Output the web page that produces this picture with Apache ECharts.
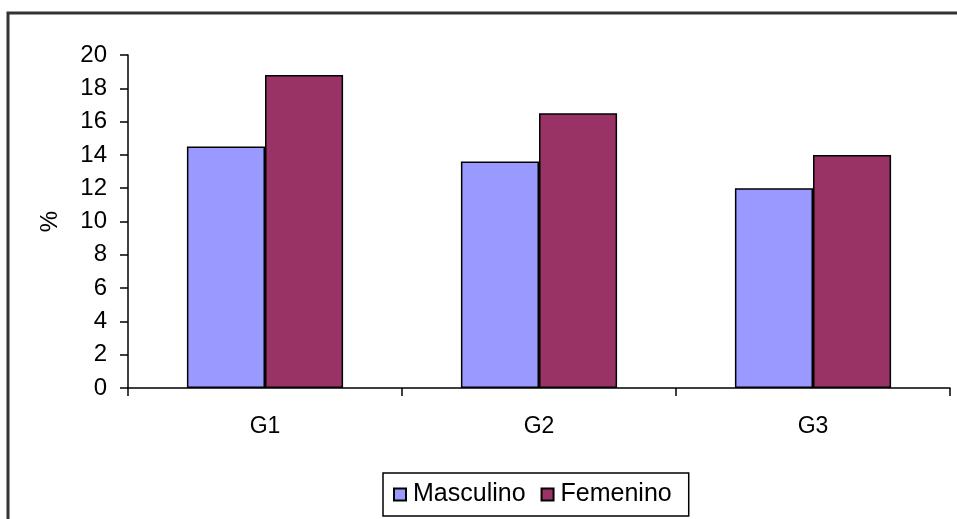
<!DOCTYPE html>
<html>
<head>
<meta charset="utf-8">
<script src="https://cdn.jsdelivr.net/npm/echarts@6/dist/echarts.min.js"></script>
<style>
  html, body { margin: 0; padding: 0; background: #fff; }
  #chart { width: 957px; height: 519px; }
</style>
</head>
<body>
<div id="chart"></div>
<script>
// grupos y porcentajes
const categories = ['G1', 'G2', 'G3'];
const masculino = [14.5, 13.6, 12.0];
const femenino = [18.8, 16.5, 14.0];

const chart = echarts.init(document.getElementById('chart'));

const option = {
  backgroundColor: '#fff',
  animation: false,
  textStyle: { fontFamily: 'Liberation Sans, Arial, sans-serif', color: '#000' },
  graphic: [{
    type: 'rect',
    shape: { x: 8, y: 13, width: 970, height: 540 },
    style: { fill: 'none', stroke: '#333', lineWidth: 3 },
    silent: true
  }],
  grid: { left: 128, right: 7, top: 55, bottom: 131, containLabel: false },
  legend: {
    left: 383, top: 473,
    padding: [9, 17, 9, 10],
    itemGap: 15,
    itemWidth: 12, itemHeight: 12,
    icon: 'rect',
    borderColor: '#000', borderWidth: 1.5,
    textStyle: { fontSize: 25, color: '#000', fontFamily: 'Liberation Sans, Arial, sans-serif', padding: [0, 0, 0, 2] },
    data: ['Masculino', 'Femenino']
  },
  xAxis: {
    type: 'category',
    data: categories,
    axisLine: { lineStyle: { color: '#000', width: 1.5 } },
    axisTick: { show: true, alignWithLabel: false, length: 8, lineStyle: { color: '#000', width: 1.5 } },
    axisLabel: { fontSize: 23, color: '#000', margin: 27 }
  },
  yAxis: {
    type: 'value',
    min: 0, max: 20, interval: 2,
    name: '%',
    nameLocation: 'middle',
    nameGap: 66,
    nameRotate: 90,
    nameTextStyle: { fontSize: 24, color: '#000' },
    axisLine: { show: true, lineStyle: { color: '#000', width: 1.5 } },
    axisTick: { show: true, length: 8, lineStyle: { color: '#000', width: 1.5 } },
    axisLabel: { fontSize: 24, color: '#000', margin: 21 },
    splitLine: { show: false }
  },
  series: [
    {
      name: 'Masculino',
      type: 'bar',
      data: masculino,
      barGap: '0%',
      barCategoryGap: '43%',
      itemStyle: { color: '#9999ff', borderColor: '#000', borderWidth: 1.5 }
    },
    {
      name: 'Femenino',
      type: 'bar',
      data: femenino,
      barGap: '0%',
      barCategoryGap: '43%',
      itemStyle: { color: '#993366', borderColor: '#000', borderWidth: 1.5 }
    }
  ]
};

chart.setOption(option);
</script>
</body>
</html>
